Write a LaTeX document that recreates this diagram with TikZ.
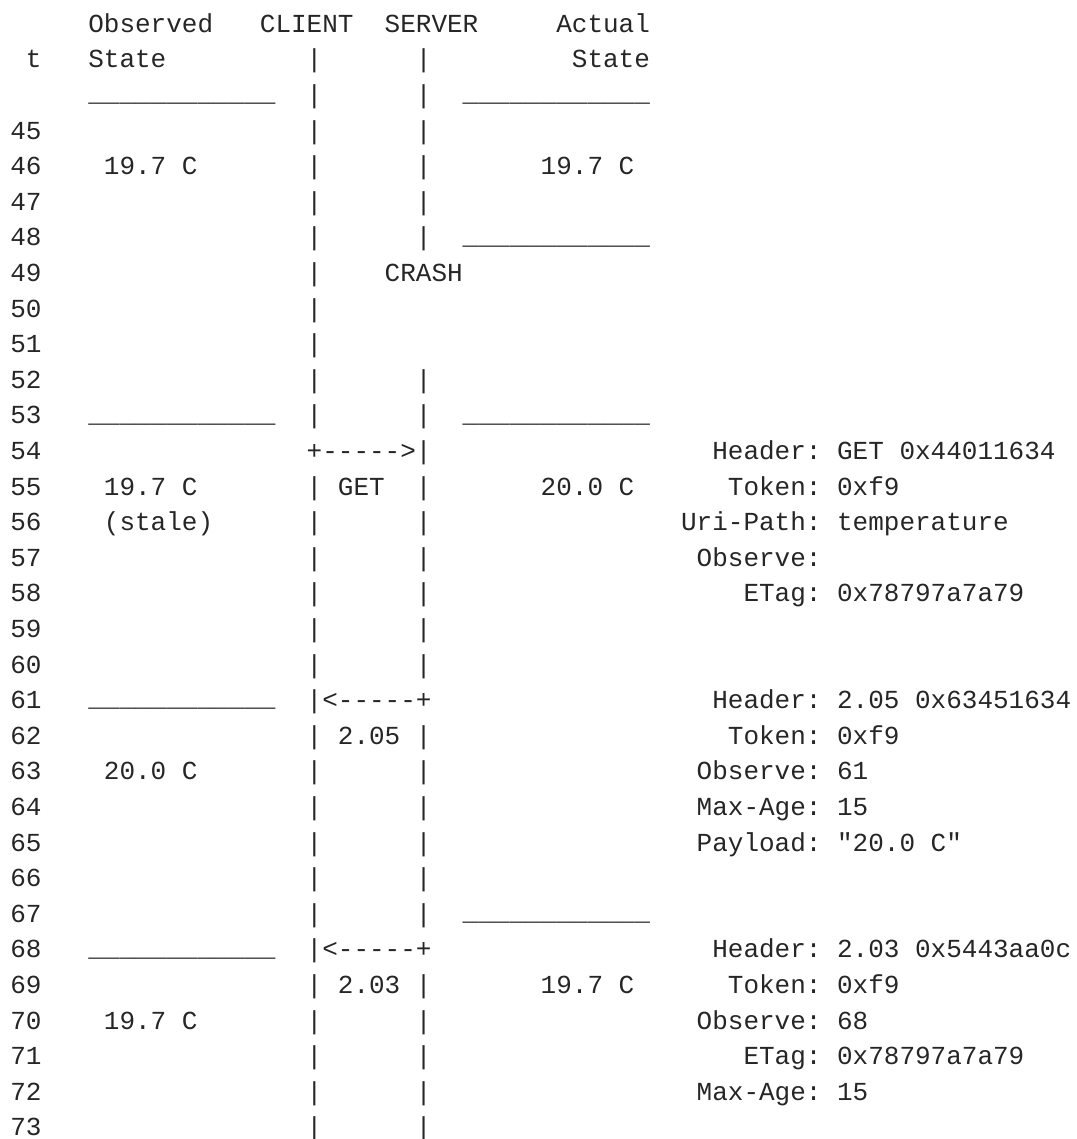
\documentclass[tikz,border=0pt]{standalone}
\usepackage{fontspec}
\newfontfamily\rfcmono{Liberation Mono}
\usepackage{tikz}

\tikzset{
  cell/.style={anchor=base west,inner sep=0pt,yshift=-4.5pt,
    font=\rfcmono\fontsize{13pt}{13pt}\selectfont\frenchspacing,text=black!85},
  bar/.style={cell,yshift=0.9pt}
}

\begin{document}
\begin{tikzpicture}[x=7.8pt,y=-17.8pt]
  \useasboundingbox (-0.635,-3.652) rectangle (68.34,28.343);
  % column heads
  \node[cell] (obs) at (5,-3) {Observed};
  \node[cell] (client) at (16,-3) {CLIENT};
  \node[cell] (server) at (24,-3) {SERVER};
  \node[cell] (act) at (35,-3) {Actual};
  \node[cell] (tlab) at (1,-2) {t};
  \node[cell] (obsst) at (5,-2) {State};
  \node[cell] (actst) at (36,-2) {State};
  % time axis
  \foreach \t in {45,...,73}
    \node[cell] (t\t) at (0,\t-45) {\t};
  % life lines
  \foreach \k in {-2,...,8,10,11,...,15,17,18,...,22,24,25,...,28}
    \node[cell] (cl\k) at (19,\k) {|};
  \foreach \k in {-2,...,3,7,8,10,11,...,15,17,18,...,22,24,25,...,28}
    \node[cell] (sv\k) at (26,\k) {|};
  \node[cell] (crash) at (24,4) {CRASH};
  % messages
  \node[cell] (req) at (19,9) {+-{}-{}-{}-{}->|};
  \node[cell] (get) at (21,10) {GET};
  \node[cell] (rspa) at (19,16) {|<-{}-{}-{}-{}-+};
  \node[cell] (codea) at (21,17) {2.05};
  \node[cell] (rspb) at (19,23) {|<-{}-{}-{}-{}-+};
  \node[cell] (codeb) at (21,24) {2.03};
  % state changes
  \foreach \k in {-1,8,16,23}
    \node[bar] (ol\k) at (5,\k) {\_\_\_\_\_\_\_\_\_\_\_\_};
  \foreach \k in {-1,3,8,22}
    \node[bar] (al\k) at (29,\k) {\_\_\_\_\_\_\_\_\_\_\_\_};
  \node[cell] (obsa) at (6,1) {19.7 C};
  \node[cell] (obsb) at (6,10) {19.7 C};
  \node[cell] (stale) at (6,11) {(stale)};
  \node[cell] (obsc) at (6,18) {20.0 C};
  \node[cell] (obsd) at (6,25) {19.7 C};
  \node[cell] (acta) at (34,1) {19.7 C};
  \node[cell] (actb) at (34,10) {20.0 C};
  \node[cell] (actc) at (34,24) {19.7 C};
  % request
  \node[cell] (hdra) at (45,9) {Header: GET 0x44011634};
  \node[cell] (toka) at (46,10) {Token: 0xf9};
  \node[cell] (uri) at (43,11) {Uri-Path: temperature};
  \node[cell] (obsopt) at (44,12) {Observe:};
  \node[cell] (etaga) at (47,13) {ETag: 0x78797a7a79};
  % first notification
  \node[cell] (hdrb) at (45,16) {Header: 2.05 0x63451634};
  \node[cell] (tokb) at (46,17) {Token: 0xf9};
  \node[cell] (seqb) at (44,18) {Observe: 61};
  \node[cell] (ageb) at (44,19) {Max-Age: 15};
  \node[cell] (load) at (44,20) {Payload: "20.0 C"};
  % second notification
  \node[cell] (hdrc) at (45,23) {Header: 2.03 0x5443aa0c};
  \node[cell] (tokc) at (46,24) {Token: 0xf9};
  \node[cell] (seqc) at (44,25) {Observe: 68};
  \node[cell] (etagc) at (47,26) {ETag: 0x78797a7a79};
  \node[cell] (agec) at (44,27) {Max-Age: 15};
\end{tikzpicture}
\end{document}
